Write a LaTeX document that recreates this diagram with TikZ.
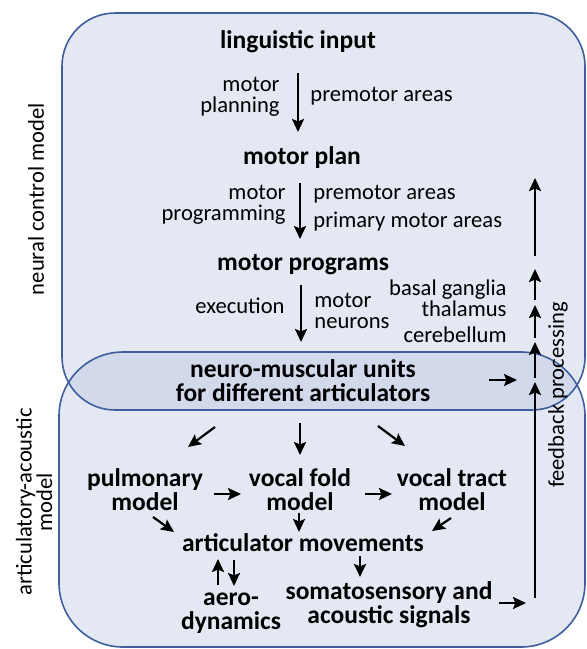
\documentclass[tikz,border=0pt]{standalone}
\usepackage{fontspec}
\setmainfont{Carlito}
\usetikzlibrary{arrows.meta}

\definecolor{boxfill}{RGB}{227,232,243}
\definecolor{boxline}{RGB}{62,94,158}
\definecolor{overlapfill}{RGB}{209,217,235}

\begin{document}
\begin{tikzpicture}[
    x=0.5pt, y=-0.5pt,
    title/.style={font=\fontsize{12.75}{12}\selectfont\bfseries, align=center, inner sep=0pt},
    lbl/.style={font=\fontsize{11.3}{10.25}\selectfont, inner sep=0pt},
    side/.style={lbl, rotate=90, align=center},
    arr/.style={-{Stealth[length=6.5pt,width=6pt,inset=1.2pt]}, line width=1.1pt}
  ]
  \useasboundingbox (0,0) rectangle (586,649);
  % the two model areas and where they overlap
  \fill[boxfill, rounded corners=26.5pt] (62,13) rectangle (585,410);
  \fill[boxfill, rounded corners=32pt] (59,352) rectangle (585,647);
  \begin{scope}
    \clip[rounded corners=26.5pt] (62,13) rectangle (585,410);
    \fill[overlapfill, rounded corners=32pt] (59,352) rectangle (585,647);
  \end{scope}
  \draw[boxline, line width=0.8pt, rounded corners=26.5pt] (62,13) rectangle (585,410);
  \draw[boxline, line width=0.8pt, rounded corners=32pt] (59,352) rectangle (585,647);

  \node[side] (ncm) at (36,199) {neural control model};
  \node[side] (aam) at (34,502) {articulatory-acoustic\\model};
  \node[side] (fbp) at (558,395) {feedback processing};

  % neural control chain
  \node[title] (li) at (298,42) {linguistic input};
  \node[title] (mp) at (302,158) {motor plan};
  \node[title] (mprog) at (303,265) {motor programs};
  \node[title] (nmu) at (303,381) {neuro-muscular units\\for different articulators};

  \node[lbl, align=right, anchor=east] (plan) at (280,97) {motor\\planning};
  \node[lbl, anchor=west] (premA) at (310,96) {premotor areas};
  \node[lbl, align=right, anchor=east] (progr) at (286,205) {motor\\programming};
  \node[lbl, anchor=west] (premB) at (313,194) {premotor areas};
  \node[lbl, anchor=west] (prim) at (313,222) {primary motor areas};
  \node[lbl, anchor=east] (exec) at (285,306) {execution};
  \node[lbl, align=left, anchor=west] (mneur) at (314,311) {motor\\neurons};
  \node[lbl, align=right, anchor=east] (bgt) at (507,298) {basal ganglia\\thalamus};
  \node[lbl, anchor=east] (cereb) at (507,335) {cerebellum};

  % articulatory-acoustic part
  \node[title] (pul) at (145,490) {pulmonary\\model};
  \node[title] (vf) at (300,490) {vocal fold\\model};
  \node[title] (vt) at (452,490) {vocal tract\\model};
  \node[title] (am) at (303,543) {articulator movements};
  \node[title] (aero) at (231,613) {aero-\\dynamics};
  \node[title] (soma) at (389,605) {somatosensory and\\acoustic signals};

  \draw[arr] ([shift={(0,31)}]li.center) -- ([shift={(-4,-26)}]mp.center);
  \draw[arr] ([shift={(-2,25)}]mp.center) -- ([shift={(-3,-26)}]mprog.center);
  \draw[arr] ([shift={(-2,20)}]mprog.center) -- ([shift={(-2,-39)}]nmu.center);
  \draw[arr] ([shift={(186,-1)}]nmu.center) -- ++(28,0);

  \draw[arr] ([shift={(-88,46)}]nmu.center) -- ([shift={(43,-43)}]pul.center);
  \draw[arr] ([shift={(-3,42)}]nmu.center) -- ([shift={(0,-35)}]vf.center);
  \draw[arr] ([shift={(75,45)}]nmu.center) -- ([shift={(-47,-44)}]vt.center);
  \draw[arr] ([shift={(69,4)}]pul.center) -- ([shift={(-59,4)}]vf.center);
  \draw[arr] ([shift={(65,4)}]vf.center) -- ([shift={(-60,4)}]vt.center);
  \draw[arr] ([shift={(8,27)}]pul.center) -- ([shift={(-129,-11)}]am.center);
  \draw[arr] ([shift={(-1,23)}]vf.center) -- ([shift={(-4,-11)}]am.center);
  \draw[arr] ([shift={(-1,28)}]vt.center) -- ([shift={(129,-12)}]am.center);
  \draw[arr] ([shift={(-13,-28)}]aero.center) -- ([shift={(-85,16)}]am.center);
  \draw[arr] ([shift={(-69,17)}]am.center) -- ([shift={(3,-27)}]aero.center);
  \draw[arr] ([shift={(57,13)}]am.center) -- ([shift={(-29,-28)}]soma.center);
  \draw[arr] ([shift={(110,-2)}]soma.center) -- ++(27,0);

  % feedback column
  \foreach \lo/\hi [count=\i] in {598/382,378/342,338/305,300/269,256/178}{
    \coordinate (fb\i a) at (535,\lo);
    \coordinate (fb\i b) at (535,\hi);
    \draw[arr] (fb\i a) -- (fb\i b);
  }
\end{tikzpicture}
\end{document}
